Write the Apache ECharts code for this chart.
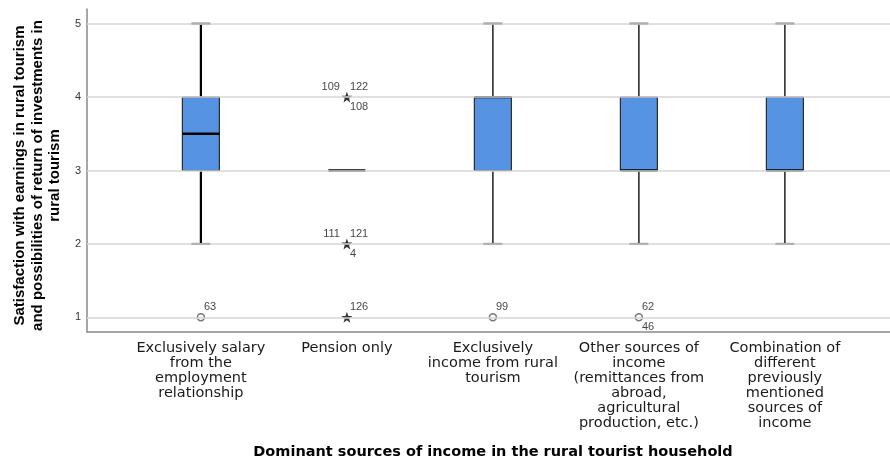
<!DOCTYPE html>
<html>
<head>
<meta charset="utf-8">
<title>Satisfaction by dominant income source</title>
<script src="https://cdn.jsdelivr.net/npm/echarts@6/dist/echarts.min.js"></script>
<style>
  html, body { margin: 0; padding: 0; background: #fff; }
  #chart { width: 890px; height: 460px; }
</style>
</head>
<body>
<div id="chart"></div>
<script>
// Income-source groups (x positions 1..5)
const categories = [
  'Exclusively salary\nfrom the\nemployment\nrelationship',
  'Pension only',
  'Exclusively\nincome from rural\ntourism',
  'Other sources of\nincome\n(remittances from\nabroad,\nagricultural\nproduction, etc.)',
  'Combination of\ndifferent\npreviously\nmentioned\nsources of\nincome'
];

// Five-number summaries per group
const whiskerLow  = [2, 3, 2, 2, 2];
const quartile1   = [3, 3, 3, 3, 3];
const medians     = [3.5, 3, 4, 3, 3];
const quartile3   = [4, 3, 4, 4, 4];
const whiskerHigh = [5, 3, 5, 5, 5];

// Outlying cases (o = outlier, * = extreme)
const outlierGroup = [1, 2, 2, 2, 3, 4];
const outlierValue = [1, 4, 2, 1, 1, 1];
const outlierKind  = ['circle', 'star', 'star', 'star', 'circle', 'circle'];
const caseIdAboveRight = ['63', '122', '121', '126', '99', '62'];
const caseIdAboveLeft  = ['', '109', '111', '', '', ''];
const caseIdBelowRight = ['', '108', '4', '', '', '46'];

const yTicks = [1, 2, 3, 4, 5];

const xAxisTitle = 'Dominant sources of income in the rural tourist household';
const yAxisTitle = 'Satisfaction with earnings in rural tourism\nand possibilities of return of investments in\nrural tourism';

const boxData = categories.map((c, i) => [i + 1, whiskerLow[i], quartile1[i], medians[i], quartile3[i], whiskerHigh[i]]);

const STAR = 'path://M0,-10 L2.35,-3.24 L9.51,-3.09 L3.8,1.24 L5.88,8.09 L0,4 L-5.88,8.09 L-3.8,1.24 L-9.51,-3.09 L-2.35,-3.24 Z';

function renderBox(params, api) {
  const x = api.value(0);
  const lo = api.value(1), b1 = api.value(2), md = api.value(3), b3 = api.value(4), hi = api.value(5);
  const pLo = api.coord([x, lo]), p1 = api.coord([x, b1]), pMd = api.coord([x, md]);
  const p3 = api.coord([x, b3]), pHi = api.coord([x, hi]);
  const cx = pMd[0];
  const half = 18.5, cap = 9.5;
  const first = params.dataIndex === 0;
  const wStyle = { stroke: first ? '#000' : '#2e2e2e', lineWidth: first ? 2.2 : 1.6 };
  const capStyle = { stroke: '#3a3a3a', lineWidth: 2 };
  const children = [];
  if (hi > b3) {
    children.push({ type: 'line', shape: { x1: cx, y1: p3[1], x2: cx, y2: pHi[1] }, style: wStyle });
    children.push({ type: 'line', shape: { x1: cx - cap, y1: pHi[1], x2: cx + cap, y2: pHi[1] }, style: capStyle });
  }
  if (lo < b1) {
    children.push({ type: 'line', shape: { x1: cx, y1: p1[1], x2: cx, y2: pLo[1] }, style: wStyle });
    children.push({ type: 'line', shape: { x1: cx - cap, y1: pLo[1], x2: cx + cap, y2: pLo[1] }, style: capStyle });
  }
  if (b3 > b1) {
    children.push({
      type: 'rect',
      shape: { x: cx - half, y: p3[1], width: half * 2, height: p1[1] - p3[1] },
      style: { fill: '#5693e3', stroke: '#2b2b2b', lineWidth: 1.2 }
    });
  }
  children.push({ type: 'line', shape: { x1: cx - half, y1: pMd[1], x2: cx + half, y2: pMd[1] }, style: { stroke: '#000', lineWidth: 2.4 } });
  return { type: 'group', children };
}

function caseLabelSeries(ids, align, offset) {
  const data = [];
  ids.forEach((t, i) => { if (t) data.push({ value: [outlierGroup[i], outlierValue[i]], name: t }); });
  return {
    type: 'scatter', data, symbolSize: 1, z: 6, silent: true,
    itemStyle: { color: 'transparent' },
    label: {
      show: true, position: 'inside', formatter: p => p.name,
      align, verticalAlign: 'middle', offset,
      fontFamily: 'Liberation Sans, Arial, sans-serif', fontSize: 11, color: '#111'
    }
  };
}

const circles = [], stars = [];
outlierKind.forEach((k, i) => {
  (k === 'star' ? stars : circles).push([outlierGroup[i], outlierValue[i]]);
});

const chart = echarts.init(document.getElementById('chart'), null, { renderer: 'canvas' });
chart.setOption({
  animation: false,
  backgroundColor: '#fff',
  grid: { left: 87, right: 0, top: 9, bottom: 128, containLabel: false, outerBoundsMode: 'none' },
  xAxis: {
    type: 'value', min: 0.22, max: 5.72,
    name: xAxisTitle, nameLocation: 'middle', nameGap: 113,
    nameTextStyle: { fontFamily: 'DejaVu Sans, sans-serif', fontSize: 14.5, fontWeight: 'bold', color: '#000', padding: [0, 0, 0, 9] },
    axisLine: { show: true, lineStyle: { color: '#8a8a8a', width: 1.5 } },
    axisTick: { show: false },
    splitLine: { show: false },
    axisLabel: {
      customValues: [1, 2, 3, 4, 5],
      formatter: v => categories[Math.round(v) - 1] || '',
      margin: 9, lineHeight: 15,
      fontFamily: 'DejaVu Sans, sans-serif', fontSize: 14.5, color: '#1a1a1a'
    }
  },
  yAxis: {
    type: 'value', min: 0.8, max: 5.2,
    name: yAxisTitle, nameLocation: 'middle', nameGap: 23,
    nameTextStyle: { fontFamily: 'Liberation Sans, Arial, sans-serif', fontSize: 15, fontWeight: 'bold', color: '#000', lineHeight: 17.5, padding: [0, 10, 0, 0] },
    axisLine: { show: true, lineStyle: { color: '#8a8a8a', width: 1.5 } },
    axisTick: { show: false },
    splitLine: { show: false },
    axisLabel: {
      customValues: yTicks, margin: 6,
      fontFamily: 'Liberation Sans, Arial, sans-serif', fontSize: 11, color: '#333'
    }
  },
  series: [
    {
      type: 'line', data: [], z: 1, silent: true,
      markLine: {
        silent: true, symbol: 'none', label: { show: false },
        lineStyle: { color: '#d6d6d6', width: 1.5, type: 'solid' },
        data: yTicks.map(v => ({ yAxis: v }))
      }
    },
    { type: 'custom', renderItem: renderBox, data: boxData, z: 3, encode: { x: 0, y: [1, 2, 3, 4, 5] } },
    {
      type: 'scatter', data: circles, z: 4, symbol: 'circle', symbolSize: 7,
      itemStyle: { color: '#fff', borderColor: '#555', borderWidth: 1.5 }
    },
    {
      type: 'scatter', data: stars, z: 4, symbol: STAR, symbolSize: 11,
      itemStyle: { color: '#000' }
    },
    caseLabelSeries(caseIdAboveRight, 'left', [3, -10]),
    caseLabelSeries(caseIdAboveLeft, 'right', [-7, -10]),
    caseLabelSeries(caseIdBelowRight, 'left', [3, 10])
  ]
});
</script>
</body>
</html>
